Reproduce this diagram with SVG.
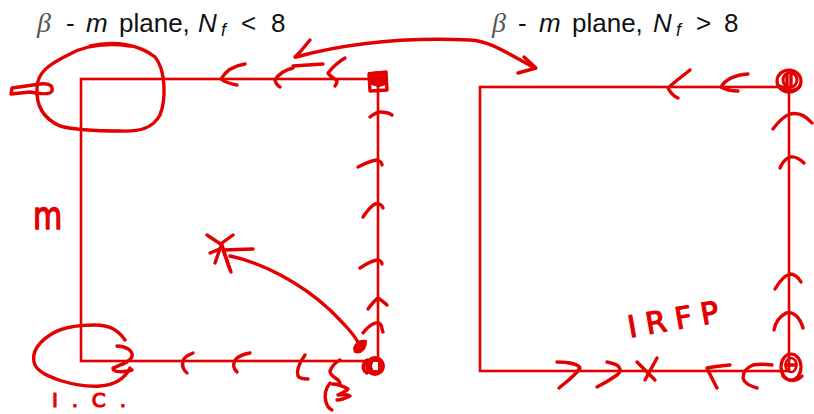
<svg xmlns="http://www.w3.org/2000/svg" width="814" height="414" viewBox="0 0 814 414">
<style>
.box{fill:none;stroke:#e30000;stroke-width:2.6}
.ink{fill:none;stroke:#e30000;stroke-width:3.4;stroke-linecap:round;stroke-linejoin:round}
.fillink{fill:#e30000;stroke:#e30000;stroke-width:2;stroke-linejoin:round}
.title{font-family:"Liberation Sans",Arial,sans-serif;font-size:26px;fill:#111}
.it{font-style:italic}
.beta{font-family:"Liberation Serif","Times New Roman",serif;font-style:italic;fill:#555;font-size:28px}
.hand{font-family:"DejaVu Sans",sans-serif;fill:#e30000;stroke:#e30000;stroke-width:1.2;stroke-linejoin:round}
</style>
<rect width="814" height="414" fill="#fff"/>

<g id="title-left">
<text class="title" y="32"><tspan class="beta" x="37">β</tspan><tspan x="66">-</tspan><tspan class="it" x="86">m</tspan><tspan x="119">plane,</tspan><tspan class="it" x="198">N</tspan><tspan class="it" x="221" y="36" font-size="18">f</tspan><tspan x="241" y="32">&lt;</tspan><tspan x="271">8</tspan></text>
</g>
<g id="title-right">
<text class="title" y="32"><tspan class="beta" x="492">β</tspan><tspan x="518">-</tspan><tspan class="it" x="539">m</tspan><tspan x="572">plane,</tspan><tspan class="it" x="653">N</tspan><tspan class="it" x="676" y="36" font-size="18">f</tspan><tspan x="696" y="32">&gt;</tspan><tspan x="724">8</tspan></text>
</g>

<g id="left-plane">
<rect class="box" x="81" y="79" width="297" height="282"/>
<path class="ink" d="M90 46 C115 40 140 45 155 57 C166 70 166 100 160 115 C153 128 140 132 120 131 C95 131 75 130 60 126 C42 118 36 105 37 88 C37 72 50 64 68 55 C80 48 100 42 130 46"/>
<path class="ink" d="M11 94 L12 88 L40 84 C50 83 53 86 52 91 C50 95 40 94 30 92 L11 94"/>
<path class="ink" d="M245 64 C232 66 225 72 221 79 C226 83 232 84 237 85"/>
<path class="ink" d="M293 68 C285 70 278 75 275 80 C276 84 278 86 280 87"/>
<path class="ink" d="M293 66 L323 64"/>
<path class="ink" d="M345 58 C338 62 332 68 328 73 C330 77 336 79 337 81 C337 83 336 85 335 86"/>
<path class="ink" d="M369 74 L386 72 L387 90 L370 91 Z"/>
<path class="fillink" d="M369 73 L386 72 L386 84 C380 86 374 85 369 83 Z"/>
<path class="ink" d="M371 75 C378 70 386 75 384 83 C378 88 372 84 371 75"/>
<path class="ink" d="M370 117 C374 114 377 112 380 112 C385 112 389 113 392 115"/>
<path class="ink" d="M358 167 C366 163 372 160 377 160 C380 161 382 163 382 165"/>
<path class="ink" d="M363 217 C367 211 371 206 375 204 C379 203 382 205 383 208"/>
<path class="ink" d="M360 268 C366 264 372 261 377 260 C380 260 382 262 382 264"/>
<path class="ink" d="M368 309 C371 305 375 300 378 298 C381 300 384 302 387 305"/>
<path class="ink" d="M363 333 C366 329 369 326 373 324 C377 322 380 323 381 325 C382 328 382 330 383 332"/>
<circle cx="375" cy="366" r="6.5" fill="none" stroke="#e30000" stroke-width="7"/>
<rect x="373" y="362" width="5" height="8" fill="#fff"/>
<path class="ink" d="M367 360 C362 364 362 370 367 373"/>
<path class="ink" d="M193 353 C188 355 184 357 183 361 C182 365 182 369 187 373"/>
<path class="ink" d="M250 353 C244 354 239 356 236 359 C233 363 232 367 237 372"/>
<path class="ink" d="M305 355 C300 362 296 370 298 376 C300 379 304 379 308 379"/>
<path class="ink" d="M340 360 C336 362 332 366 330 371 C330 376 336 378 338 380 C340 382 340 384 339 385"/>
<path class="ink" d="M330 383 C326 388 324 395 326 402 C327 406 330 409 332 410"/>
<path class="ink" d="M332 384 C337 384 343 386 348 389 C346 392 341 393 338 395 C343 395 347 394 350 396 C346 398 341 400 337 400"/>
<path class="ink" d="M125 340 C118 330 110 325 95 325 C75 325 60 328 50 335 C38 343 32 352 34 362 C36 372 50 377 62 381 C75 385 85 387 100 386 C115 385 125 378 130 368"/>
<path class="ink" d="M117 346 C125 346 133 350 132 356 C131 362 120 365 113 368 C112 372 122 373 132 370"/>
<path class="ink" d="M207 235 L222 245 L230 270"/>
<path class="ink" d="M233 235 L222 243 L215 263"/>
<path class="ink" d="M210 253 L222 248"/>
</g>

<g id="left-labels">
<text class="hand" x="33" y="229" font-size="30" transform="translate(33 229) scale(1 1.3) translate(-33 -229)">m</text>
<text class="hand" x="52" y="407" font-size="20" textLength="74" lengthAdjust="spacing">I.C.</text>
</g>

<g id="right-plane">
<rect class="box" x="480" y="87" width="309" height="284"/>
<path class="ink" d="M690 70 C680 78 672 84 668 88 C670 92 673 96 678 98"/>
<path class="ink" d="M748 74 C735 75 725 80 721 87 C726 90 732 91 738 91"/>
<ellipse cx="789" cy="81" rx="12" ry="11" fill="none" stroke="#e30000" stroke-width="3.2"/>
<ellipse cx="790" cy="80" rx="7" ry="7.5" fill="none" stroke="#e30000" stroke-width="3"/>
<path class="ink" d="M787 75 L787 86 M791 74 L791 85 M780 86 C786 92 796 92 800 86"/>
<path class="ink" d="M773 129 C779 121 784 116 790 114 C798 112 806 116 812 123"/>
<path class="ink" d="M780 168 C782 163 785 159 790 157 C796 156 800 159 804 163"/>
<path class="ink" d="M775 289 C779 282 784 276 790 274 C795 274 798 277 801 282"/>
<path class="ink" d="M774 330 C775 323 779 317 786 313 C794 311 800 318 803 328"/>
<ellipse cx="791" cy="367" rx="10" ry="13" fill="none" stroke="#e30000" stroke-width="3.2"/>
<ellipse cx="791" cy="365" rx="5.5" ry="7" fill="none" stroke="#e30000" stroke-width="2.6"/>
<path class="ink" d="M783 376 C788 382 797 382 802 376 M786 365 L796 365"/>
<path class="ink" d="M557 362 C568 362 578 364 580 368 C575 376 566 382 559 388"/>
<path class="ink" d="M607 362 C612 363 617 364 619 367 C621 370 620 373 617 375 C610 380 603 384 597 387"/>
<path class="ink" d="M637 362 L655 380 M657 358 L645 380"/>
<path class="ink" d="M730 365 C720 366 712 367 707 368 C710 375 714 382 717 388"/>
<path class="ink" d="M772 365 C765 364 758 364 753 365 C746 368 743 372 743 378 C744 383 750 386 757 388"/>
</g>

<g id="right-labels">
<text class="hand" x="626" y="330" font-size="30" textLength="92" lengthAdjust="spacing" transform="rotate(-10 672 312)">IRFP</text>
</g>

<g id="connectors">
<path class="ink" d="M296 57 C340 45 400 37 470 40 C490 41 505 52 535 68"/>
<path class="ink" d="M524 57 L536 68 L518 73"/>
<path class="ink" d="M310 40 L300 52 L295 57"/>
<path class="ink" d="M230 256 C260 262 300 282 330 310 C345 325 355 335 360 346"/>
<path class="ink" d="M253 249 L223 250 L231 272"/>
<path class="fillink" d="M355 352 C352 346 358 340 366 341 C366 348 362 354 355 352 Z"/>
</g>
</svg>
